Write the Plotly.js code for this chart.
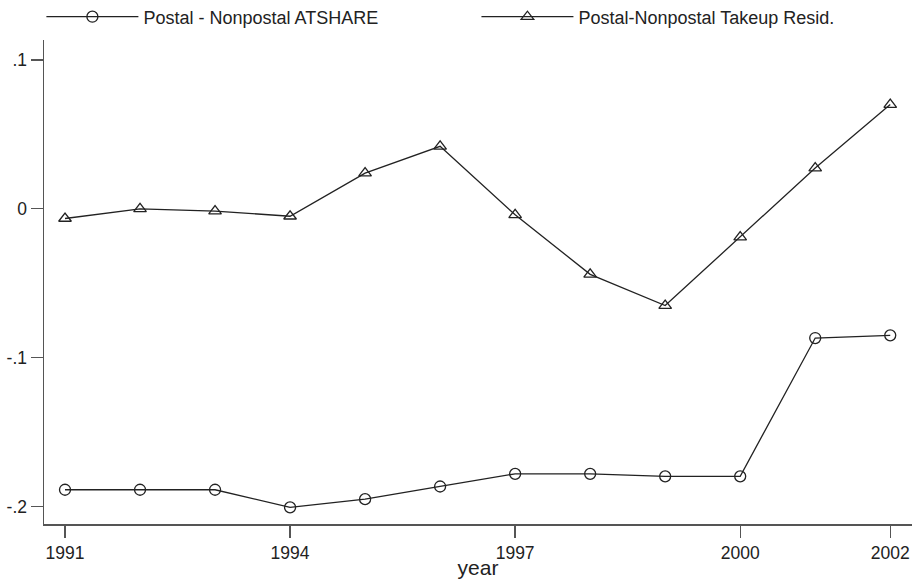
<!DOCTYPE html>
<html>
<head>
<meta charset="utf-8">
<script src="https://cdn.plot.ly/plotly-3.0.1.min.js"></script>
<style>body{margin:0;background:#fff}#chart{width:917px;height:579px}</style>
</head>
<body>
<div id="chart"></div>
<script>
const years = [1991,1992,1993,1994,1995,1996,1997,1998,1999,2000,2001,2002];
const atshare = [-0.1887,-0.1887,-0.1887,-0.2005,-0.1950,-0.1865,-0.1780,-0.1780,-0.1797,-0.1797,-0.0868,-0.0850];
const takeupResid = [-0.0065,0.000,-0.0015,-0.0050,0.0240,0.0420,-0.0040,-0.0440,-0.0650,-0.0190,0.0274,0.0700];
const seriesNames = ["Postal - Nonpostal ATSHARE","Postal-Nonpostal Takeup Resid."];
const xTicks = [1991,1994,1997,2000,2002];
const yTicks = [0.1,0,-0.1,-0.2];
const yTickText = [".1","0","-.1","-.2"];

const font = "Liberation Sans, Arial, Helvetica, sans-serif";
const ink = "#222";
const traces = [
  {x: years, y: atshare, name: seriesNames[0], mode: "lines+markers", legend: "legend",
   line: {color: ink, width: 1.3},
   marker: {symbol: "circle-open", size: 11, color: ink, line: {width: 1.3}}},
  {x: years, y: takeupResid, name: seriesNames[1], mode: "lines+markers", legend: "legend2",
   line: {color: ink, width: 1.3},
   marker: {symbol: "triangle-up-open", size: 11, color: ink, line: {width: 1.3}}}
];
const legendBase = {orientation: "h", yref: "container", y: 0.9706, yanchor: "middle", xanchor: "left",
  itemwidth: 92, borderwidth: 0, bgcolor: "rgba(0,0,0,0)",
  font: {family: font, size: 18, color: ink}};
const layout = {
  width: 917, height: 579,
  margin: {l: 44, r: 5, t: 40, b: 55},
  paper_bgcolor: "#fff", plot_bgcolor: "#fff",
  font: {family: font, size: 17, color: ink},
  showlegend: true,
  legend: Object.assign({}, legendBase, {x: -0.003}),
  legend2: Object.assign({}, legendBase, {x: 0.4982}),
  xaxis: {range: [1990.72, 2002.29], tickvals: xTicks, ticktext: xTicks.map(String),
          showgrid: false, zeroline: false, showline: true, linecolor: "#555", linewidth: 1.5,
          ticks: "outside", ticklen: 12, tickwidth: 1.3, tickcolor: "#555",
          tickfont: {family: font, size: 17.5, color: ink},
          title: {text: "year", font: {family: font, size: 21, color: ink}, standoff: 0}},
  yaxis: {range: [-0.2117, 0.1134], tickvals: yTicks, ticktext: yTickText,
          showgrid: false, zeroline: false, showline: true, linecolor: "#555", linewidth: 1.5,
          ticks: "outside", ticklen: 12, tickwidth: 1.3, tickcolor: "#555",
          tickfont: {family: font, size: 17.5, color: ink}}
};
Plotly.newPlot("chart", traces, layout, {displayModeBar: false, staticPlot: true});
</script>
</body>
</html>
